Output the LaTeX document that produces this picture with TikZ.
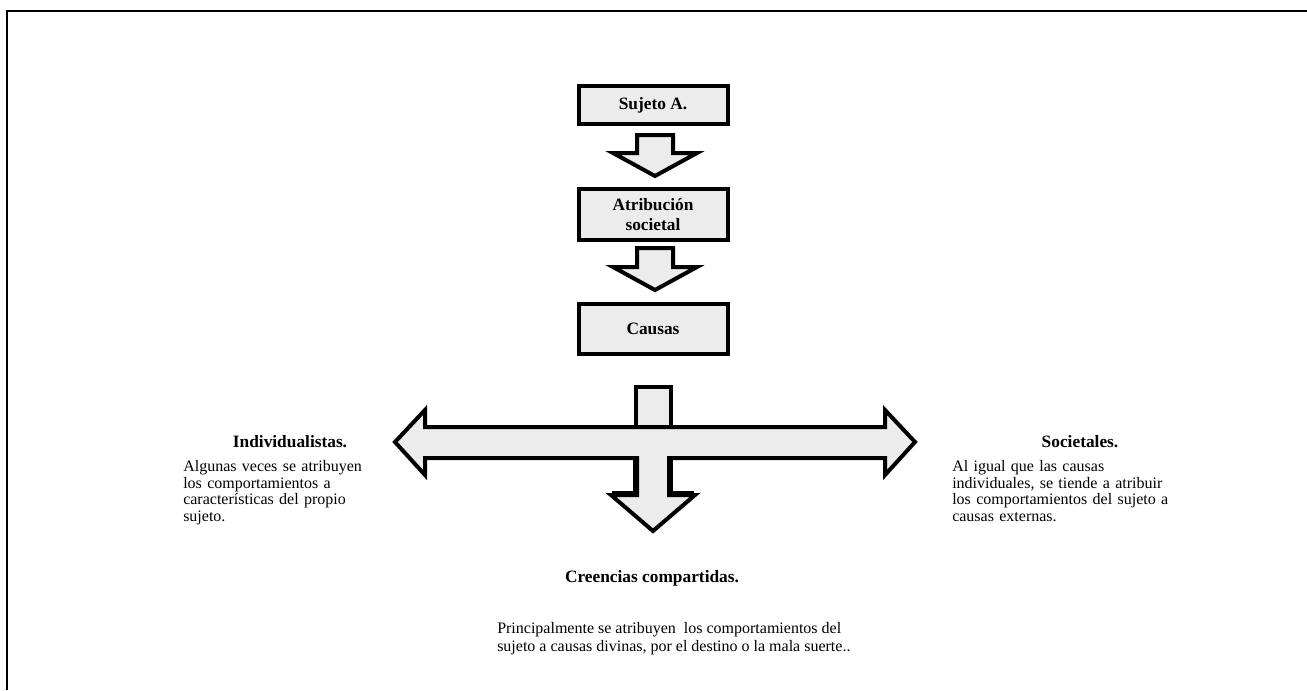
\documentclass[tikz,border=0pt]{standalone}
\usepackage{fontspec}
\setmainfont{Liberation Serif}
\definecolor{boxgray}{RGB}{236,236,236}
\begin{document}
\begin{tikzpicture}[x=0.75pt,y=-0.75pt,
  box/.style={draw,line width=3pt,fill=boxgray,minimum width=111.75pt,align=center,
    font=\fontsize{13}{15}\selectfont\bfseries,inner sep=0pt},
  blockarrow/.style={draw,line width=3pt,fill=boxgray,line join=miter},
  title/.style={font=\fontsize{13}{15}\selectfont\bfseries,inner sep=0pt},
  para/.style={font=\fontsize{12}{12.6}\selectfont,inner sep=0pt,align=left,anchor=north west},
  frame/.style={line width=1.5pt}
]
\useasboundingbox (0,0) rectangle (1307,690);
\draw[frame] (7,690) -- (7,11) -- (1307,11);

% boxes
\node[box,minimum height=28.5pt] (sujeto) at (653,105) {Sujeto A.};
\node[box,minimum height=38.25pt] (atrib) at (653,214.5) {Atribución\\societal};
\node[box,minimum height=37.5pt] (causas) at (653,329) {Causas};

% small block arrows
\draw[blockarrow] (637,135) -- (673,135) -- (673,153) -- (697,153) -- (655,176) -- (613,153) -- (637,153) -- cycle;
\draw[blockarrow] (637,248) -- (673,248) -- (673,267) -- (697,267) -- (655,290) -- (613,267) -- (637,267) -- cycle;

% cross arrow
\draw[blockarrow] (395,442) -- (425,410) -- (425,427) -- (885,427) -- (885,410) -- (915,442)
  -- (885,475) -- (885,458) -- (669,458) -- (669,495) -- (695,495) -- (653,531) -- (611,495)
  -- (637,495) -- (637,458) -- (425,458) -- (425,475) -- cycle;
\draw[line width=4.5pt,line join=miter] (636,459) -- (636,494) -- (612,494);
\draw[line width=4.5pt,line join=miter] (670,459) -- (670,494) -- (694,494);
\draw[blockarrow] (636,387) rectangle (671,427);

% texts
\node[title] (indiv) at (290,442) {Individualistas.};
\node[para,text width=154.5pt] (indivtxt) at (183,460) {%
\makebox[154.5pt][s]{Algunas veces se atribuyen}\\
\makebox[154.5pt][s]{los comportamientos a}\\
\makebox[154.5pt][s]{características del propio}\\
sujeto.};

\node[title] (soc) at (1080,442) {Societales.};
\node[para,text width=163pt] (soctxt) at (952,460) {%
\makebox[163pt][s]{Al igual que las causas}\\
\makebox[163pt][s]{individuales, se tiende a atribuir}\\
\makebox[163pt][s]{los comportamientos del sujeto a}\\
causas externas.};

\node[title] (cre) at (652,578) {Creencias compartidas.};
\node[para,font=\fontsize{12}{13.5}\selectfont] (cretxt) at (497,622) {%
Principalmente se atribuyen\ \ los comportamientos del\\
sujeto a causas divinas, por el destino o la mala suerte..};
\end{tikzpicture}
\end{document}
